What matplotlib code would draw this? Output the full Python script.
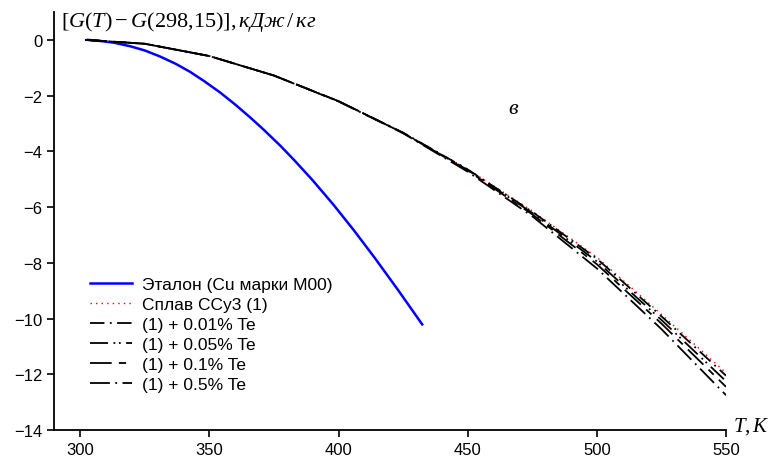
import numpy as np
import matplotlib
matplotlib.use("Agg")
import matplotlib.pyplot as plt

plt.rcParams['font.family'] = ['Liberation Sans', 'DejaVu Sans']
plt.rcParams['mathtext.fontset'] = 'custom'
plt.rcParams['mathtext.rm'] = 'Liberation Serif'
plt.rcParams['mathtext.it'] = 'Liberation Serif:italic'

# reference curve (Cu M00)
t_ref = [303, 307.8, 313, 319.4, 325, 331, 337, 342.6, 348, 354.2, 360, 365.9, 371,
         377.5, 383, 390, 398, 406, 414, 423, 432.4]
g_ref = [0, -0.04, -0.1, -0.23, -0.38, -0.6, -0.86, -1.15, -1.48, -1.89, -2.32, -2.79,
         -3.22, -3.8, -4.33, -5.04, -5.91, -6.84, -7.82, -8.97, -10.21]

# alloy curves
t_alloy = [302, 325, 350, 375, 400, 425, 450, 475, 500, 525, 550]
g_ccu3 = [0, -0.14, -0.58, -1.28, -2.2, -3.33, -4.64, -6.14, -7.8, -9.85, -11.95]
g_te001 = [0, -0.14, -0.58, -1.28, -2.2, -3.33, -4.65, -6.17, -7.85, -9.92, -12.05]
g_te005 = [0, -0.14, -0.58, -1.28, -2.2, -3.34, -4.67, -6.21, -7.95, -10.05, -12.25]
g_te01 = [0, -0.14, -0.58, -1.28, -2.2, -3.34, -4.69, -6.26, -8.05, -10.18, -12.45]
g_te05 = [0, -0.14, -0.58, -1.28, -2.21, -3.35, -4.73, -6.33, -8.2, -10.38, -12.75]

labels = ['Эталон (Cu марки М00)', 'Сплав ССу3 (1)', '(1) + 0.01% Te',
          '(1) + 0.05% Te', '(1) + 0.1% Te', '(1) + 0.5% Te']

fig = plt.figure(figsize=(7.76, 4.64), dpi=100)
ax = fig.add_axes([0.070, 0.0711, 0.8656, 0.9009])

ax.plot(t_ref, g_ref, color='#0000ff', lw=1.8, label=labels[0])
ax.plot(t_alloy, g_ccu3, color='red', lw=1.0, ls=(0, (1, 3)), label=labels[1])
ax.plot(t_alloy, g_te001, color='black', lw=1.3, ls=(0, (8, 3, 1, 3)), label=labels[2])
ax.plot(t_alloy, g_te005, color='black', lw=1.3, ls=(0, (10, 3, 1, 2, 1, 3)), label=labels[3])
ax.plot(t_alloy, g_te01, color='black', lw=1.3, ls=(0, (12, 4, 4, 4)), label=labels[4])
ax.plot(t_alloy, g_te05, color='black', lw=1.3, ls=(0, (11, 3, 1, 3)), label=labels[5])

ax.set_xlim(290, 550)
ax.set_ylim(-14, 1)
ax.set_xticks([300, 350, 400, 450, 500, 550])
ax.set_yticks(np.arange(-14, 1, 2))
ax.spines['top'].set_visible(False)
ax.spines['right'].set_visible(False)
ax.spines['left'].set_linewidth(1.3)
ax.spines['bottom'].set_linewidth(1.3)
ax.tick_params(direction='out', length=5, width=1.2, labelsize=12)

ax.legend(loc='lower left', bbox_to_anchor=(0.053, 0.09), frameon=False, fontsize=12.5,
          handlelength=2.4, handletextpad=0.6, labelspacing=0.28, borderaxespad=0,
          borderpad=0)

fig.text(0.078, 0.953, r'$[G(T)-G(298{,}15)],\mathit{кДж\,/\,кг}$', fontsize=16,
         ha='left', va='center')
ax.text(467.8, -2.42, r'$\mathit{в}$', fontsize=16, ha='center', va='center')
fig.text(0.945, 0.08, r'$T,K$', fontsize=15, ha='left', va='center')

fig.savefig('out.png', dpi=100)
